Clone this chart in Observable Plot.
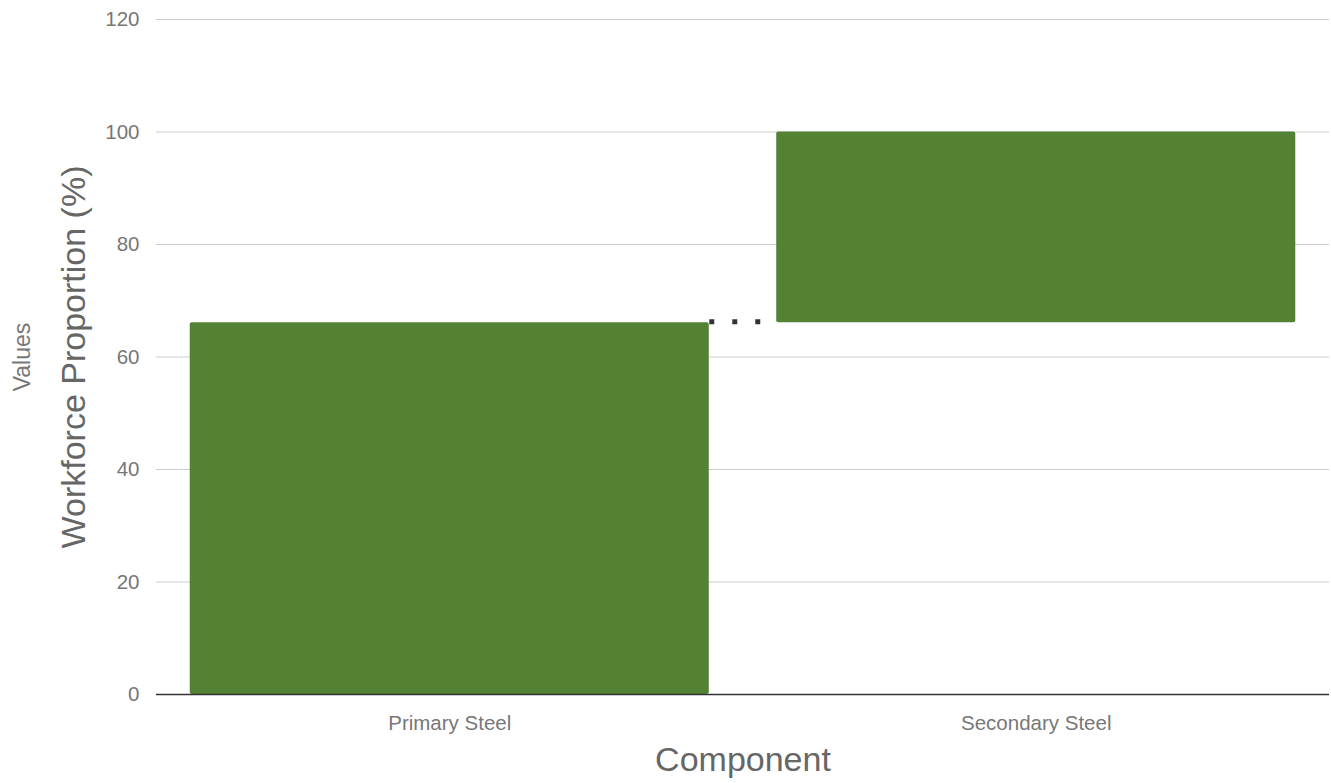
<!DOCTYPE html>
<html>
<head>
<meta charset="utf-8">
<script src="https://cdn.jsdelivr.net/npm/d3@7"></script>
<script src="https://cdn.jsdelivr.net/npm/@observablehq/plot@0.6"></script>
<style>
  html, body { margin: 0; padding: 0; background: #fff; }
  #chart svg { display: block; }
</style>
</head>
<body>
<div id="chart"></div>
<script>
// Data
const categories = ["Primary Steel", "Secondary Steel"];
const changes = [66.1, 33.9];
const yTicks = [0, 20, 40, 60, 80, 100, 120];
const xTitle = "Component";
const yTitle = "Workforce Proportion (%)";
const outerTitle = "Values";

// Waterfall table built from the arrays
const ends = d3.cumsum(changes);
const rows = categories.map((c, i) => ({i, name: c, start: ends[i] - changes[i], end: ends[i]}));
const connectors = rows.slice(0, -1).map(r => ({i: r.i, v: r.end}));
const half = 0.4425; // half bar width in band units

const chart = Plot.plot({
  width: 1331,
  height: 783,
  marginTop: 19,
  marginBottom: 89,
  marginLeft: 156,
  marginRight: 2,
  style: {fontFamily: "'Liberation Sans', Arial, sans-serif", fontSize: "20.5px", color: "#777", background: "#fff"},
  x: {
    type: "linear",
    domain: [-0.5, categories.length - 0.5],
    ticks: categories.map((_, i) => i),
    tickFormat: i => categories[i],
    tickSize: 0,
    tickPadding: 21,
    label: null
  },
  y: {
    domain: [0, 120],
    ticks: yTicks,
    tickSize: 0,
    tickPadding: 17,
    label: null
  },
  marks: [
    Plot.ruleY(yTicks.filter(t => t !== 0), {stroke: "#cccccc", strokeWidth: 1}),
    Plot.rectY(rows, {x1: d => d.i - half, x2: d => d.i + half, y1: "start", y2: "end", fill: "#538235", rx: 2}),
    Plot.link(connectors, {x1: d => d.i + half, x2: d => d.i + 1 - half, y1: "v", y2: "v", stroke: "#333", strokeWidth: 5, strokeDasharray: "5,18", dy: -1}),
    Plot.ruleY([0], {stroke: "#333", strokeWidth: 1.3}),
    Plot.text([yTitle], {frameAnchor: "left", textAnchor: "middle", dx: -82, rotate: -90, fontSize: 34, fill: "#666"}),
    Plot.text([outerTitle], {frameAnchor: "left", textAnchor: "middle", dx: -134, rotate: -90, fontSize: 23, fill: "#777"}),
    Plot.text([xTitle], {frameAnchor: "bottom", textAnchor: "middle", dy: 76, fontSize: 34, fill: "#666"})
  ]
});
document.getElementById("chart").appendChild(chart);
</script>
</body>
</html>
